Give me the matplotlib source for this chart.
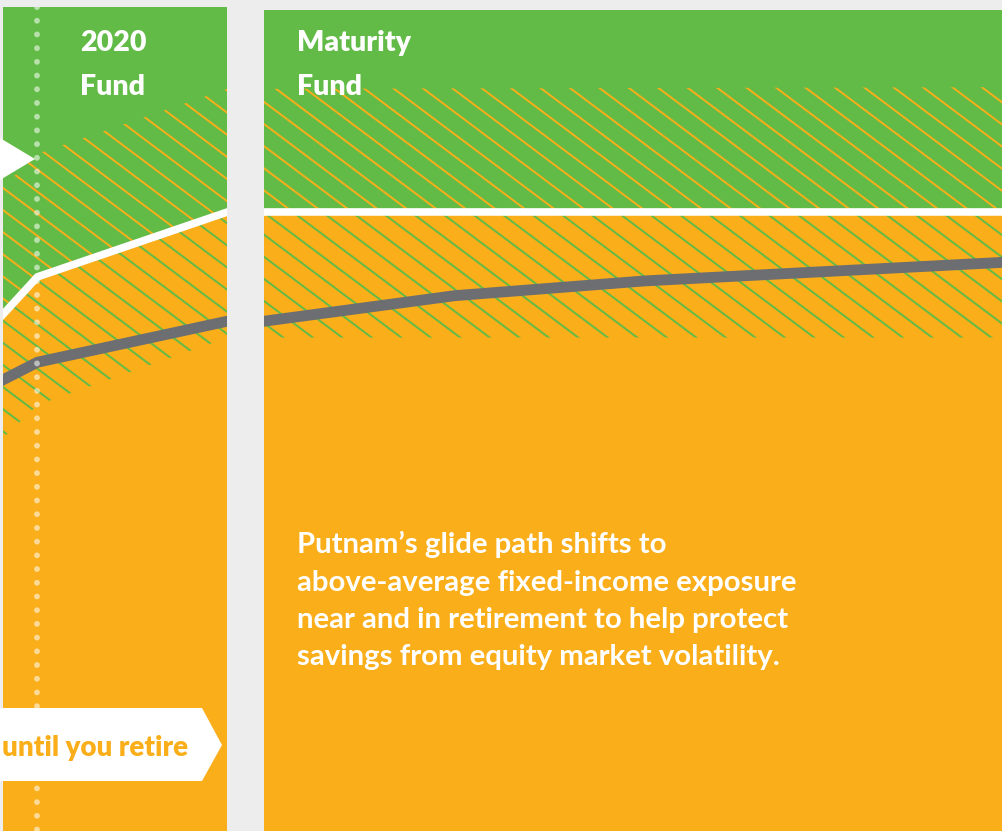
import numpy as np
import matplotlib.pyplot as plt
from matplotlib.collections import LineCollection
from matplotlib.patches import Polygon
from matplotlib.transforms import IdentityTransform

# glide path, years after the target date vs. share measured down from the panel top
years = [-0.5, 0, 1, 5]
band_top = [28.6, 17.5, 9.6, 9.4]
band_bottom = [59.2, 48.1, 39.9, 39.9]
putnam_path = [45.1, 32.5, 24.6, 24.6]
avg_years = [-0.5, 0, 1, 2, 3, 4, 5]
industry_avg = [48.8, 42.9, 37.9, 34.8, 33.0, 31.8, 30.6]

left_title = ["2020", "Fund"]
right_title = ["Maturity", "Fund"]
note = ["Putnam\u2019s glide path shifts to",
        "above-average fixed-income exposure",
        "near and in retirement to help protect",
        "savings from equity market volatility."]
arrow_label = "until you retire"

GREEN = "#61BB46"
ORANGE = "#F9AE1A"
GREY = "#6D6E71"
BG = "#EDEDED"

W, H = 1002, 831
PX_YEAR = 190.0
X0 = 37.5      # pixel of year 0
GAP = 37.0     # break between the two panels
PX_UNIT = 8.21

plt.rcParams['font.family'] = ['Lato', 'DejaVu Sans']
fig = plt.figure(figsize=(W / 100, H / 100), dpi=100, facecolor=BG)


def make_panel(x0, x1, top, shift):
    ax = fig.add_axes([x0 / W, 0, (x1 - x0) / W, (H - top) / H])
    ax.set_xlim((x0 - X0 - shift) / PX_YEAR, (x1 - X0 - shift) / PX_YEAR)
    ax.set_ylim(100, (top - 10) / PX_UNIT)
    ax.set_facecolor(ORANGE)
    ax.set_xticks([])
    ax.set_yticks([])
    for s in ax.spines.values():
        s.set_visible(False)
    return ax


def hatch(ax, clip, color, phase):
    bb = ax.get_position()
    xa, xb = bb.x0 * W - 5, bb.x1 * W + 5
    segs = []
    for c in np.arange(phase - 900, 900, 29.5 * 0.75):
        ya, yb = 0.75 * xa + c, 0.75 * xb + c
        segs.append([(xa, H - ya), (xb, H - yb)])
    lc = LineCollection(segs, colors=color, linewidths=1.4,
                        transform=IdentityTransform())
    ax.add_collection(lc, autolim=False)
    lc.set_clip_path(clip.get_paths()[0], clip.get_transform())


panels = [make_panel(3, 227, 7, 0), make_panel(264, 1002, 10, GAP)]
phases = [1.6, 7.4]

for ax, ph in zip(panels, phases):
    ax.fill_between(years, -5, putnam_path, color=GREEN, lw=0)
    upper = ax.fill_between(years, band_top, putnam_path, facecolor='none', lw=0)
    lower = ax.fill_between(years, putnam_path, band_bottom, facecolor='none', lw=0)
    hatch(ax, upper, ORANGE, ph)
    hatch(ax, lower, GREEN, ph)
    ax.plot(years, putnam_path, color='white', lw=5.5, solid_joinstyle='miter')
    ax.plot(avg_years, industry_avg, color=GREY, lw=7.8, solid_joinstyle='miter')

# target-date dotted marker
ax = panels[0]
ax.plot([0, 0], [ax.get_ylim()[1], 100], color='white', alpha=0.55, lw=4.2,
        linestyle=(0, (0.01, 2.34)), dash_capstyle='round', zorder=5)


def pos(x, y):
    return x / W, 1 - y / H


# white arrow shapes at the left edge
fig.add_artist(Polygon([(-5, H - 135), (35, H - 159), (-5, H - 183)],
                       closed=True, color='white', lw=0, transform=IdentityTransform()))
fig.add_artist(Polygon([(-20, H - 708), (202, H - 708), (222, H - 745),
                        (202, H - 781), (-20, H - 781)],
                       closed=True, color='white', lw=0, transform=IdentityTransform()))

for i, t in enumerate(left_title):
    fig.text(*pos(80, 51 + 44 * i), t, color='white', fontsize=20.5,
             fontweight='heavy', va='baseline', ha='left')
for i, t in enumerate(right_title):
    fig.text(*pos(297, 51 + 44 * i), t, color='white', fontsize=20.5,
             fontweight='heavy', va='baseline', ha='left')
for i, t in enumerate(note):
    fig.text(*pos(297, 553 + 37.5 * i), t, color='white', fontsize=21.2,
             fontweight='bold', va='baseline', ha='left')

fig.text(*pos(2, 756), arrow_label, color=ORANGE, fontsize=20,
         fontweight='heavy', va='baseline', ha='left')

fig.savefig("out.png", dpi=100, facecolor=BG)
